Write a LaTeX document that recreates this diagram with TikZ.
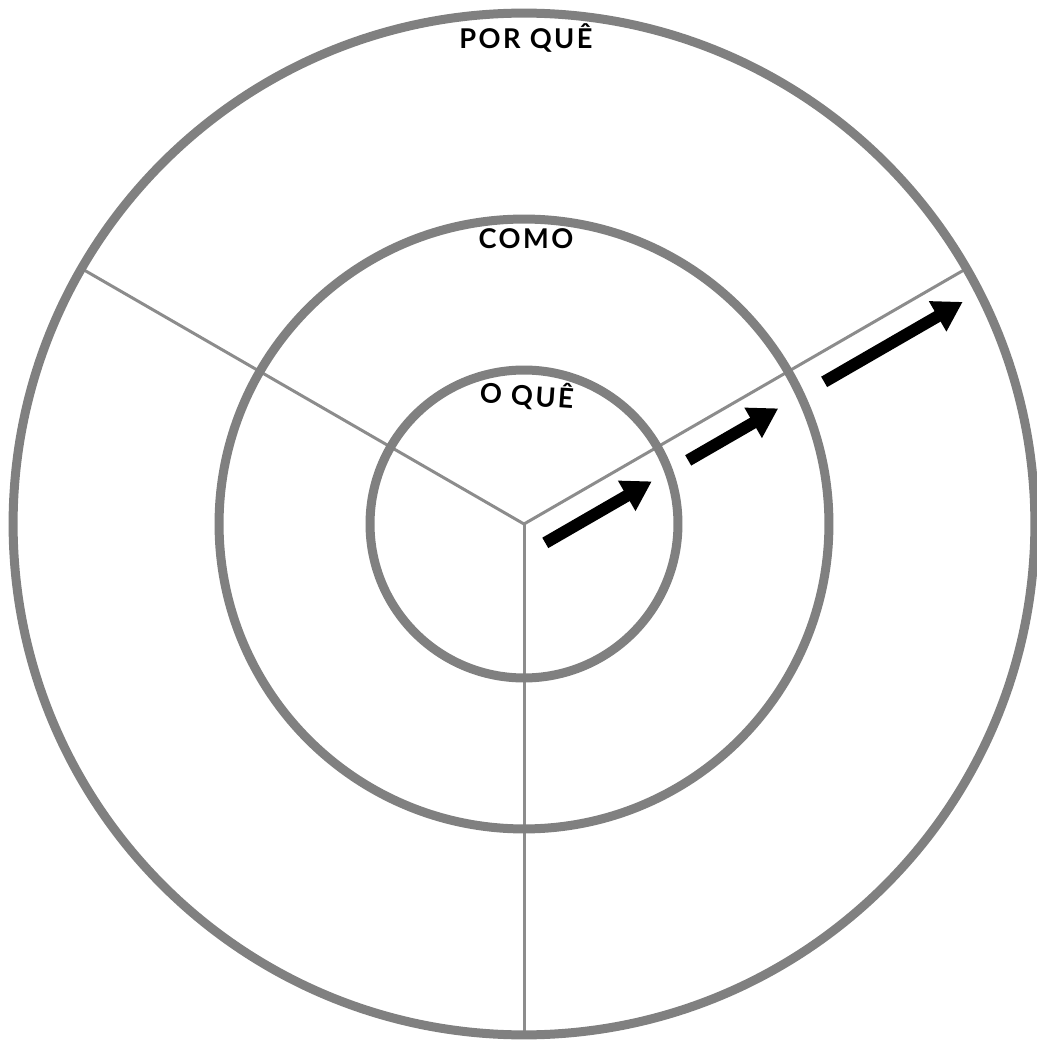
\documentclass[tikz,border=0pt]{standalone}
\usepackage{fontspec}
\setmainfont{Lato}[LetterSpace=9]
\usetikzlibrary{arrows.meta}
\definecolor{ringgray}{RGB}{128,128,128}
\definecolor{spokegray}{RGB}{140,140,140}
\tikzset{
  ring/.style={circle, draw=ringgray, line width=0.18cm, inner sep=0pt, outer sep=0pt},
  spoke/.style={draw=spokegray, line width=0.06cm},
  bigarrow/.style={line width=0.24cm, -{Triangle[length=0.58cm,width=0.66cm]}},
  ringlabel/.style={font=\fontsize{15.5}{18}\selectfont\bfseries, inner sep=1pt}
}

\begin{document}
\begin{tikzpicture}[x=0.02cm,y=0.02cm]
\useasboundingbox (-524,-517) rectangle (513,524);
\coordinate (C) at (0,0);

% spokes
\foreach \ang/\tag in {30/R,150/L,270/D} {
  \coordinate (\tag) at (\ang:511);
  \draw[spoke] (C) -- (\tag);
}

% rings
\foreach \name/\size in {Outer/20.44cm,Middle/12.2cm,Inner/6.16cm} {
  \node[ring, minimum size=\size] (\name) at (C) {};
}

% arrows along the right spoke
\begin{scope}[rotate=30]
\foreach \from/\to in {9/132,174/278,331/491}
  \draw[bigarrow] (\from,-27) -- (\to,-27);
\end{scope}

\node[ringlabel] (whyLabel) at (2,486) {POR QUÊ};
\node[ringlabel] (howLabel) at (2,285) {COMO};
\node[ringlabel, rotate=-4] (whatLabel) at (3,129) {O QUÊ};
\end{tikzpicture}
\end{document}
